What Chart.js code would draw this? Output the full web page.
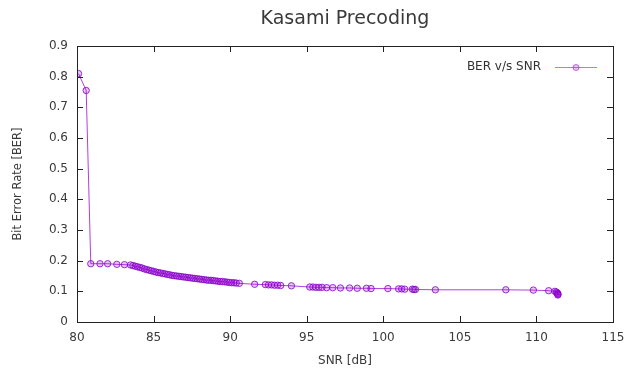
<!DOCTYPE html>
<html>
<head>
<meta charset="utf-8">
<script src="https://cdn.jsdelivr.net/npm/chart.js@4"></script>
<style>
  html, body { margin: 0; padding: 0; background: #fff; }
  #wrap { width: 628px; height: 373px; }
</style>
</head>
<body>
<div id="wrap"><canvas id="ber-chart" width="628" height="373"></canvas></div>
<script>
// values
const snr = [80.1, 80.6, 80.9, 81.5, 82.0, 82.6, 83.1,
  83.50, 83.65, 83.80, 83.95, 84.10, 84.25, 84.40, 84.55, 84.70, 84.85, 85.00, 85.15, 85.30,
  85.45, 85.60, 85.75, 85.90, 86.05, 86.20, 86.35, 86.50, 86.65, 86.80, 86.95, 87.10, 87.25,
  87.40, 87.55, 87.70, 87.85, 88.00, 88.15, 88.30, 88.45, 88.60, 88.75, 88.90, 89.05, 89.20,
  89.35, 89.50, 89.65, 89.80, 89.95, 90.10, 90.25, 90.40, 90.60,
  91.6, 92.3, 92.5, 92.7, 92.9, 93.1, 93.3, 94.0, 95.2, 95.4, 95.6, 95.8, 96.0, 96.3, 96.7,
  97.2, 97.8, 98.3, 98.9, 99.2, 100.3, 101.0, 101.2, 101.4, 101.9, 102.0, 102.1, 103.4,
  108.0, 109.8, 110.8, 111.2, 111.3, 111.35, 111.4, 111.4, 111.4];
const ber = [0.81, 0.755, 0.19, 0.19, 0.19, 0.188, 0.187,
  0.186, 0.184, 0.182, 0.180, 0.178, 0.176, 0.173, 0.171, 0.169, 0.167, 0.165, 0.163, 0.161,
  0.160, 0.158, 0.157, 0.155, 0.154, 0.152, 0.151, 0.150, 0.149, 0.148, 0.147, 0.146, 0.145,
  0.144, 0.143, 0.142, 0.141, 0.140, 0.139, 0.138, 0.137, 0.136, 0.136, 0.135, 0.134, 0.133,
  0.132, 0.132, 0.131, 0.130, 0.129, 0.128, 0.128, 0.127, 0.126,
  0.123, 0.122, 0.121, 0.121, 0.120, 0.120, 0.119, 0.118, 0.114, 0.114, 0.113, 0.113, 0.113,
  0.112, 0.112, 0.111, 0.111, 0.110, 0.110, 0.109, 0.109, 0.108, 0.108, 0.107, 0.107, 0.106,
  0.106, 0.105, 0.105, 0.104, 0.102, 0.100, 0.098, 0.095, 0.093, 0.090, 0.088];
const seriesName = "BER v/s SNR";
const chartTitle = "Kasami Precoding";
const xTicks = [80, 85, 90, 95, 100, 105, 110, 115];
const yTicks = [0, 0.1, 0.2, 0.3, 0.4, 0.5, 0.6, 0.7, 0.8, 0.9];

const purple = "#9400d3";
const font = "'DejaVu Sans', sans-serif";

// gnuplot look: box border, ticks pointing in, mirrored on top/right, key inside,
// title centred over the plot area
const gnuplotFrame = {
  id: "gnuplotFrame",
  afterDraw(chart) {
    const ctx = chart.ctx;
    const a = chart.chartArea;
    const xs = chart.scales.x, ys = chart.scales.y;
    ctx.save();
    ctx.font = "19px " + font;
    ctx.fillStyle = "#3a3a3a";
    ctx.textAlign = "center";
    ctx.textBaseline = "middle";
    ctx.fillText(chartTitle, (a.left + a.right) / 2, a.top - 27);

    ctx.strokeStyle = "#222";
    ctx.lineWidth = 1;
    ctx.strokeRect(a.left + 0.5, a.top + 0.5, a.right - a.left, a.bottom - a.top);
    ctx.beginPath();
    xTicks.forEach(v => {
      const px = Math.round(xs.getPixelForValue(v)) + 0.5;
      ctx.moveTo(px, a.bottom); ctx.lineTo(px, a.bottom - 6);
      ctx.moveTo(px, a.top); ctx.lineTo(px, a.top + 6);
    });
    yTicks.forEach(v => {
      const py = Math.round(ys.getPixelForValue(v)) + 0.5;
      ctx.moveTo(a.left, py); ctx.lineTo(a.left + 6, py);
      ctx.moveTo(a.right, py); ctx.lineTo(a.right - 6, py);
    });
    ctx.stroke();

    // key
    const ky = a.top + 21;
    const lx0 = a.right - 58, lx1 = a.right - 16;
    ctx.font = "12px " + font;
    ctx.fillStyle = "#333";
    ctx.textAlign = "right";
    ctx.fillText(seriesName, lx0 - 14, ky);
    ctx.strokeStyle = purple;
    ctx.globalAlpha = 0.55;
    ctx.beginPath();
    ctx.moveTo(lx0, ky + 0.5); ctx.lineTo(lx1, ky + 0.5);
    ctx.stroke();
    ctx.fillStyle = "rgba(148,0,211,0.4)";
    ctx.beginPath();
    ctx.arc((lx0 + lx1) / 2, ky + 0.5, 3, 0, Math.PI * 2);
    ctx.fill();
    ctx.stroke();
    ctx.restore();
  }
};

new Chart(document.getElementById("ber-chart"), {
  type: "line",
  data: {
    datasets: [{
      label: seriesName,
      data: snr.map((x, i) => ({ x: x, y: ber[i] })),
      borderColor: "rgba(148,0,211,0.75)",
      borderWidth: 1,
      pointRadius: 3.2,
      pointBorderWidth: 1,
      pointBorderColor: "rgba(135,0,200,0.8)",
      pointBackgroundColor: "rgba(148,0,211,0.22)",
      tension: 0,
      fill: false
    }]
  },
  options: {
    responsive: false,
    animation: false,
    layout: { padding: { top: 46, right: 15, left: 4, bottom: 2 } },
    plugins: {
      legend: { display: false },
      tooltip: { enabled: false },
      title: { display: false }
    },
    scales: {
      x: {
        type: "linear",
        min: 80, max: 115,
        afterBuildTicks: s => { s.ticks = xTicks.map(v => ({ value: v })); },
        afterFit: s => { s.height = 49; s.paddingRight = 0; },
        grid: { display: false, drawTicks: false },
        border: { display: false },
        ticks: { color: "#3a3a3a", font: { family: font, size: 12 }, padding: 9, maxRotation: 0 },
        title: { display: true, text: "SNR [dB]", color: "#3a3a3a", font: { family: font, size: 12 }, padding: { top: 0, bottom: 3 } }
      },
      y: {
        min: 0, max: 0.9,
        afterBuildTicks: s => { s.ticks = yTicks.map(v => ({ value: v })); },
        afterFit: s => { s.width = 73; },
        grid: { display: false, drawTicks: false },
        border: { display: false },
        ticks: { color: "#3a3a3a", font: { family: font, size: 12 }, padding: 9, callback: v => (v === 0 ? "0" : v.toFixed(1)) },
        title: { display: true, text: "Bit Error Rate [BER]", color: "#3a3a3a", font: { family: font, size: 11.5 }, padding: { top: 7, bottom: 4 } }
      }
    }
  },
  plugins: [gnuplotFrame]
});
</script>
</body>
</html>
